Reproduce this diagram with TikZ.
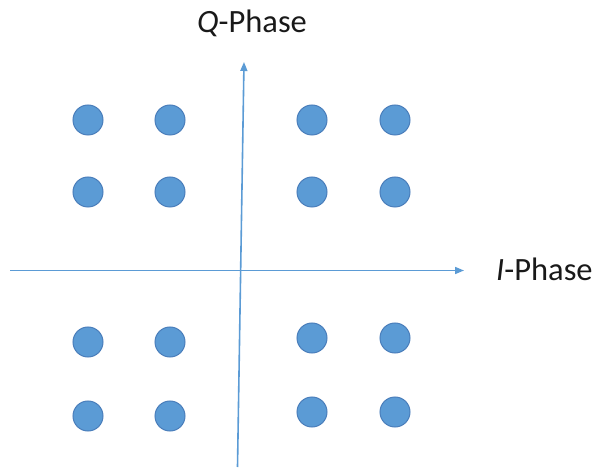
\documentclass[tikz,border=0pt]{standalone}
\usepackage{fontspec}
\setmainfont{Carlito}
\usetikzlibrary{arrows.meta}
\definecolor{dotblue}{HTML}{5B9BD5}
\definecolor{dotedge}{HTML}{4A7EBB}
\definecolor{axisblue}{HTML}{5B9BD5}
\tikzset{
  dot/.style={circle, fill=dotblue, draw=dotedge, line width=1pt, minimum size=30pt, inner sep=0pt},
  axis/.style={draw=axisblue, line width=1.6pt, -{Triangle[length=9pt,width=7pt]}},
  lbl/.style={font=\fontsize{32.5}{38}\selectfont, text=black!90, inner sep=0pt}
}
\begin{document}
\begin{tikzpicture}[x=1pt,y=-1pt]
\useasboundingbox (0,0) rectangle (598,468);
% axes
\coordinate (xs) at (10,270.5);
\coordinate (xe) at (464,270.5);
\coordinate (ys) at (237.5,467);
\coordinate (ye) at (244,62);
\draw[axis] (xs) -- (xe);
\draw[axis] (ys) -- (ye);
% labels
\node[lbl, anchor=base] (ql) at (252,33) {\textit{Q}-Phase};
\node[lbl, anchor=base west] (il) at (496,281) {\textit{I}-Phase};
% dots
\node[dot] (d1) at (88,120) {};
\node[dot] (d2) at (170,120) {};
\node[dot] (d3) at (88,192) {};
\node[dot] (d4) at (170,192) {};
\node[dot] (d5) at (312,120) {};
\node[dot] (d6) at (395,120) {};
\node[dot] (d7) at (312,192) {};
\node[dot] (d8) at (395,192) {};
\node[dot] (d9) at (88,342) {};
\node[dot] (d10) at (170,342) {};
\node[dot] (d11) at (88,416) {};
\node[dot] (d12) at (170,416) {};
\node[dot] (d13) at (312,338) {};
\node[dot] (d14) at (395,338) {};
\node[dot] (d15) at (312,412) {};
\node[dot] (d16) at (395,412) {};
\end{tikzpicture}
\end{document}
